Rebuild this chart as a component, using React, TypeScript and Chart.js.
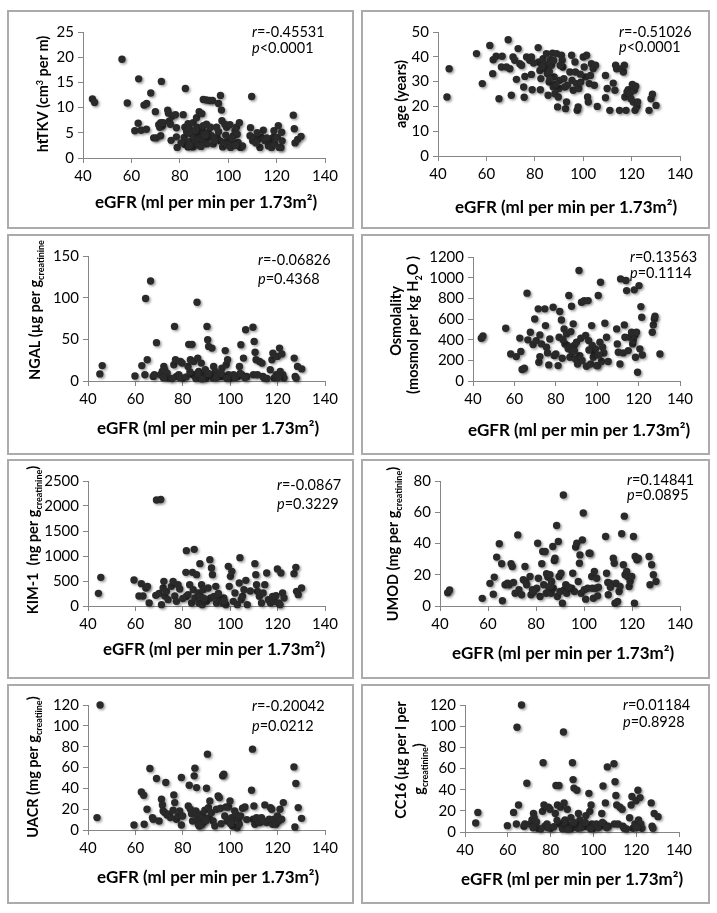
import React, { useEffect, useRef } from 'react';
import { Chart, registerables } from 'chart.js';

Chart.register(...registerables);

const FONT = 'Lato, "Open Sans", "DejaVu Sans", sans-serif';

// ---------------- data (eGFR, value) ----------------
const htTKVPoints: number[][] = [
  [43.9, 11.7], [44.8, 11.0], [56.1, 19.6], [58.3, 10.9], [61.4, 5.4], [63, 15.7], [62.8, 6.9], [64, 5.5], [65.2, 10.5], [66.3, 10.8],
  [66.2, 5.7], [68, 12.9], [69.2, 4.0], [70.3, 4.0], [69.9, 9.2], [71.3, 6.6], [72.1, 7.0], [72.7, 6.4], [71.7, 6.1], [72.4, 15.2],
  [72.1, 4.4], [73.1, 7.0], [75, 9.5], [75.3, 8.9], [75.6, 7.3], [76.1, 6.7], [76.4, 3.5], [76.8, 8.3], [78.2, 8.6], [78.9, 2.1],
  [78.6, 6.0], [78.6, 4.2], [81.4, 8.6], [82.3, 13.8], [82.1, 6.1], [81.8, 4.1], [82.2, 2.7], [82.8, 5.2], [83.4, 6.8], [83.9, 5.8],
  [84.4, 4.8], [84.8, 3.4], [83.2, 3.2], [83.4, 2.2], [85.5, 7.0], [85.2, 5.1], [85.9, 4.1], [86.3, 2.9], [85.5, 2.2], [86.9, 8.0],
  [87.2, 6.1], [87.6, 5.1], [87.9, 3.7], [87.7, 2.6], [88, 9.2], [89.1, 8.8], [88.3, 4.1], [89, 5.7], [89.4, 4.7], [89.7, 6.4],
  [89.9, 3.4], [89.7, 11.6], [91, 11.5], [92.4, 11.4], [93.5, 11.4], [91, 6.7], [91.7, 5.1], [92.1, 4.1], [92.7, 6.1], [93.1, 4.4],
  [91.2, 2.8], [93.8, 2.8], [95.2, 6.1], [95.4, 4.1], [96, 10.8], [96.8, 12.4], [97.2, 9.5], [97.4, 7.4], [96.6, 3.4], [97.7, 2.2],
  [98.2, 3.1], [98.6, 6.7], [99.3, 6.1], [99.7, 2.6], [100.4, 3.4], [101, 2.1], [100.7, 6.6], [102.1, 4.4], [102.8, 5.4], [103.4, 6.1],
  [103.7, 4.7], [104.6, 7.0], [102.8, 2.8], [104.1, 3.1], [105.1, 2.1], [105.9, 2.4], [109.7, 12.2], [109.2, 6.0], [109, 4.4], [110.1, 3.4],
  [111, 4.1], [112.4, 3.7], [113.1, 2.1], [113.8, 4.1], [114.5, 5.5], [115.2, 3.4], [116.6, 2.4], [117.2, 3.1], [117.9, 2.1], [118.6, 4.1],
  [118.9, 5.4], [119.3, 2.8], [120.7, 6.4], [120.3, 4.1], [121.1, 2.1], [121.8, 2.1], [122.3, 3.4], [122.1, 5.1], [126.9, 8.5], [127.3, 5.8],
  [127.6, 3.0], [128.7, 3.7], [130.1, 4.3], [80.5, 3.0], [84, 2.5], [86.5, 5.5], [88.8, 2.3], [90.5, 4.5], [94.3, 3.5], [96, 5.2],
  [99, 4.5], [101.5, 4.0], [103, 2.5], [111.5, 3.0], [116, 4.0], [112, 5.0],
];

const agePoints: number[][] = [
  [43.7, 23.8], [44.6, 35.2], [55.9, 41.3], [58.3, 29.2], [61.4, 44.6], [62.8, 38.8], [62.6, 33.2], [64, 40.2], [65.2, 23.1], [66.5, 40.2],
  [66.2, 35.9], [69, 46.9], [68.3, 35.9], [69.7, 35.2], [70.3, 24.5], [71, 39.9], [71.7, 38.6], [72.4, 30.9], [73.1, 43.3], [73.8, 37.2],
  [74.5, 36.6], [75.4, 27.8], [75.6, 23.7], [75.9, 32.1], [76.6, 39.9], [77.9, 38.6], [78.6, 39.9], [78.6, 32.9], [78.9, 26.7], [81.4, 43.7],
  [81.7, 37.9], [82.1, 34.5], [82.5, 31.2], [82.3, 26.7], [83.4, 39.2], [84.1, 37.2], [84.6, 35.2], [84.8, 41.3], [85.2, 33.2], [85.5, 24.5],
  [85.9, 29.8], [86.5, 38.8], [86.9, 36.6], [87.3, 41.5], [87.6, 27.8], [88, 31.9], [88.3, 25.1], [89, 41.3], [89.4, 19.8], [89.7, 23.8],
  [90, 27.2], [90.3, 30.5], [91, 40.6], [91.3, 38.6], [91.6, 35.9], [92, 31.2], [92.4, 27.8], [92.7, 19.1], [93.1, 21.8], [94.5, 33.9],
  [95.2, 40.6], [95.4, 30.5], [95.9, 26.5], [96.6, 37.9], [96.8, 33.9], [97.2, 29.2], [97.5, 18.4], [97.9, 19.8], [98.2, 27.2], [99, 29.8],
  [100, 39.9], [100.4, 35.9], [101, 31.9], [101.4, 40.6], [101.8, 23.8], [102.1, 21.8], [102.5, 29.2], [103.4, 37.2], [104.1, 35.2], [104.6, 28.5],
  [105.1, 36.6], [105.8, 20.0], [109.2, 32.5], [109.2, 23.5], [109.9, 27.2], [111, 18.4], [112.4, 29.4], [113.1, 26.5], [113.4, 36.6], [113.8, 35.2],
  [115, 18.4], [115.9, 35.2], [116.6, 33.9], [117, 36.6], [117.2, 23.8], [117.7, 18.4], [118.1, 25.8], [118.6, 26.7], [119.3, 25.1], [119.7, 23.1],
  [120.3, 28.9], [120.7, 21.8], [121.1, 26.5], [121.7, 28.1], [121.4, 18.4], [122.2, 20.0], [122.5, 21.8], [127.2, 18.4], [128, 23.1], [128.6, 24.9],
  [130.1, 20.4], [83, 36], [86, 34], [87.8, 38.5], [88.7, 29], [90.5, 36.5], [93.5, 28.5], [98.8, 33], [103, 32.5], [86.2, 31], [79.5, 37.5],
];

const ngalPoints: number[][] = [
  [45.0, 8.5], [46.0, 18.5], [59.8, 6.0], [62.7, 18.5], [64, 7.5], [64.3, 99], [65, 25.5], [66.4, 120], [67.5, 5.5], [68, 7.5],
  [68.9, 46], [70.6, 7.5], [71.3, 11.5], [72, 17.5], [72.3, 13.5], [72.7, 5.5], [73.4, 9.5], [74.1, 3.5], [76.2, 19.5], [76.5, 65.5],
  [76.9, 25.5], [77.3, 5.5], [78.3, 7.5], [79, 23.5], [79.7, 21.5], [80.1, 3.5], [82.2, 17.5], [82.5, 44], [83.2, 25.5], [83.9, 44],
  [84.3, 7.5], [84.6, 23.5], [86, 94.5], [86.3, 27.5], [86.7, 11.5], [87.1, 3.5], [87.4, 7.5], [87.8, 21.5], [88.8, 5.5], [89.5, 13.5],
  [89.9, 3.5], [90.2, 65.5], [90.5, 49.5], [90.9, 41.5], [91.6, 7.5], [92.3, 39.5], [92.7, 3.5], [93, 17.5], [93.7, 11.5], [95.1, 7.5],
  [95.8, 5.5], [96.5, 15.5], [97.2, 5.5], [97.9, 36.5], [98.3, 19.5], [98.9, 25.5], [99.3, 7.5], [100, 3.5], [100.4, 5.5], [101.4, 7.5],
  [103.1, 5.5], [103.9, 17.5], [104.5, 43.5], [104.9, 7.5], [105.6, 27.5], [106.5, 61.5], [107, 5.5], [109.6, 64.5], [109.8, 7.5], [110.1, 47.5],
  [110.5, 34.5], [110.9, 25.5], [111.5, 7.5], [112.4, 23.5], [113.4, 21.5], [113.8, 5.5], [114.3, 3.5], [116.9, 13.5], [117.6, 25.5], [118, 33.5],
  [118.5, 3.5], [119.4, 7.5], [119.9, 29.5], [120.8, 39.5], [121.1, 11.5], [121.8, 32.5], [122.2, 7.5], [122.7, 3.5], [127, 27.5], [127.4, 5.5],
  [127.8, 3.5], [128.4, 17.5], [130.2, 14.5], [75.5, 3], [78.8, 4], [81.5, 5], [85.5, 3], [86.2, 9], [88.2, 2.5], [90.8, 9],
  [94.2, 4], [96.2, 9], [98.6, 3], [102.2, 4], [104.2, 9], [106.2, 4], [115.5, 3], [120.2, 4], [71.8, 4], [83, 11],
];

const osmoPoints: number[][] = [
  [44, 413], [44.8, 435], [55.8, 510], [58.2, 262], [60.9, 236], [62.6, 415], [63.1, 285], [63.7, 111], [64.8, 123], [66.1, 850],
  [66.5, 398], [67.7, 472], [69, 353], [69.8, 600], [70.5, 391], [71.5, 698], [71.8, 182], [72.3, 236], [72.3, 446], [73.1, 359],
  [74.7, 698], [75, 536], [75.5, 327], [76, 272], [76.6, 156], [77.1, 407], [78.7, 714], [79.2, 246], [80, 262], [81.1, 149],
  [81.6, 423], [81.9, 672], [82.7, 591], [83.1, 220], [84, 504], [84.4, 359], [85.2, 456], [85.6, 343], [86, 311], [86.3, 827],
  [86.8, 230], [87.3, 478], [87.6, 723], [87.9, 278], [88.4, 553], [88.9, 343], [89.5, 214], [90, 375], [90.5, 165], [91.2, 1069],
  [91.6, 246], [92.1, 414], [92.4, 762], [92.7, 198], [93.7, 778], [94.4, 440], [94.8, 143], [95.6, 778], [95.9, 391], [96.8, 165],
  [97.3, 536], [97.6, 343], [98.1, 230], [98.5, 278], [99.2, 311], [99.7, 149], [100.2, 149], [100.5, 827], [101.3, 375], [101.6, 956],
  [102.1, 188], [102.6, 327], [103.2, 272], [103.7, 559], [104.5, 423], [105.3, 188], [109.4, 504], [109.7, 359], [110.2, 278], [111, 165],
  [111.3, 988], [112.6, 272], [113.1, 543], [113.4, 423], [113.9, 972], [114.2, 875], [115, 294], [115.8, 423], [116.6, 472], [117.1, 359],
  [117.4, 391], [117.9, 882], [118.2, 440], [118.5, 230], [119, 472], [119.5, 85], [120.2, 923], [120.6, 311], [121.1, 720], [121.5, 617],
  [121.8, 252], [126.6, 472], [127.1, 543], [127.6, 601], [127.9, 627], [130.3, 262], [83.5, 400], [89, 290], [96, 300], [100.8, 250],
];

const kimPoints: number[][] = [
  [44.4, 253], [45.4, 573], [59.4, 520], [61.5, 200], [62.5, 447], [63.2, 200], [64.4, 360], [65.1, 393], [65.8, 60], [68.9, 2120],
  [70.7, 2130], [68.6, 213], [70, 253], [71, 27], [71.7, 360], [72, 493], [72.4, 200], [73.1, 293], [73.8, 127], [75.2, 393],
  [75.9, 493], [76.6, 200], [77.3, 93], [78, 427], [78.7, 340], [81.5, 1107], [81.3, 673], [81.5, 193], [82.2, 227], [82.9, 427],
  [83.7, 60], [84.1, 673], [84.4, 327], [84.8, 1133], [85.1, 160], [85.8, 627], [86.5, 260], [86.8, 60], [87.2, 847], [87.5, 193],
  [87.9, 427], [88.2, 27], [88.6, 327], [90, 93], [90.7, 360], [91.4, 927], [91.7, 160], [92.1, 760], [92.5, 627], [93.1, 193],
  [93.9, 393], [94.2, 60], [95.6, 127], [96.8, 60], [97.3, 160], [98.2, 27], [99.2, 793], [99.6, 393], [100.1, 593], [100.7, 693],
  [101.3, 93], [102, 260], [103, 27], [103.8, 460], [104.1, 967], [104.6, 127], [105.2, 193], [105.8, 327], [106.6, 513], [107.2, 27],
  [110.4, 847], [110.8, 627], [111.1, 427], [111.5, 293], [112.3, 193], [113.2, 60], [113.9, 260], [114.6, 427], [115.4, 660], [116.1, 127],
  [117, 60], [117.9, 193], [118.5, 93], [119.3, 207], [119.9, 740], [120.4, 60], [121, 27], [121.4, 660], [122.1, 260], [122.7, 160],
  [126.9, 647], [127.7, 773], [128, 293], [128.7, 227], [130.1, 360], [80, 150], [89, 150], [95, 250], [97.5, 100], [108.5, 300],
];

const umodPoints: number[][] = [
  [43.2, 8.5], [44.0, 10.2], [57.6, 4.9], [60.8, 14.5], [62.2, 7.6], [62.6, 18.5], [63.6, 31.3], [64.7, 39.8], [65.7, 27], [66, 3.4],
  [67.1, 13.6], [68.1, 14.6], [68.8, 13.6], [69.6, 27], [70.1, 25.3], [70.6, 15.1], [71.3, 8.2], [72.4, 45.5], [72.9, 10.4], [74, 7.2],
  [74.7, 16.8], [75.4, 25.3], [75.7, 15.7], [76.1, 13.6], [77.5, 18.9], [77.9, 7.2], [78.5, 10.4], [80.3, 11.4], [80.7, 40.2], [81, 17.8],
  [81.7, 6.1], [82.4, 27], [82.8, 34.9], [83.2, 13.6], [83.8, 34.9], [84.2, 8.2], [84.4, 20.6], [84.9, 18.5], [85.4, 10.4], [85.8, 20],
  [86.3, 8.2], [86.5, 15.7], [87, 38.1], [87.2, 11.4], [87.6, 29.1], [87.9, 30.6], [88.6, 51.5], [88.9, 6.1], [89.3, 41.3], [89.6, 18.9],
  [90, 9.3], [90.4, 21], [91.4, 71], [91, 1.8], [91.8, 10.4], [92.4, 13.6], [92.8, 8.2], [94.9, 11.4], [95.3, 21], [96, 9.3],
  [96.5, 37.7], [97, 40.2], [97.6, 15.7], [98.1, 27.4], [98.3, 32.7], [98.8, 8.2], [99.3, 42.3], [99.7, 59.5], [100.1, 10.4], [100.7, 4.4],
  [101.5, 11.4], [102.1, 33.8], [102.5, 33.8], [103.2, 18.9], [103.5, 11.4], [103.9, 5], [104.3, 22.1], [104.9, 11.4], [105.3, 17.8], [105.7, 6.5],
  [109, 44.5], [109.4, 21], [109.9, 15.1], [110.1, 7.2], [110.8, 14.6], [112.2, 30.6], [112.6, 27.4], [112.9, 1.8], [113.3, 14.6], [114, 2.9],
  [114.6, 9.3], [115, 12.5], [115.7, 46.2], [116.4, 26.4], [116.8, 57.5], [117.1, 20], [117.8, 22.1], [118.2, 18.9], [118.8, 12.5], [119.2, 15.7],
  [119.9, 18.9], [120.6, 44.5], [121, 1.8], [121.3, 31.7], [122, 29.6], [122.6, 30.6], [127.1, 31.7], [127.5, 13.6], [128.2, 26.4], [128.9, 20],
  [130, 15.7], [79, 9], [86, 13], [93.5, 12], [106, 12], [111, 12],
];

const uacrPoints: number[][] = [
  [43.8, 11.9], [45.1, 120], [59.4, 4.8], [62.5, 36.6], [63.5, 33.4], [63.7, 5.5], [64.9, 19.9], [66.1, 59], [67.2, 11.9], [67.5, 10.3],
  [68.9, 49.4], [70, 8.7], [71, 29.5], [71.4, 24.1], [71.7, 18.3], [72.4, 16.7], [72.8, 45.6], [73.4, 14.4], [74.2, 15.1], [74.8, 11.9],
  [75.9, 18.9], [76.2, 33.7], [76.6, 26.3], [77.3, 10.3], [78, 13.5], [78.7, 18.3], [79.4, 4.8], [79.4, 50.4], [79.9, 13.5], [82.3, 23.1],
  [82.7, 43], [83.2, 19.9], [83.7, 15.7], [84.1, 8.7], [84.8, 52], [85.1, 59.4], [85.5, 18.3], [85.8, 40.7], [86.1, 11.9], [86.5, 5.5],
  [86.9, 3.9], [87.2, 15.1], [87.6, 10.3], [88.2, 13.5], [88.6, 7.1], [88.9, 11.9], [89.3, 18.9], [90, 40.1], [90.4, 72.8], [90.8, 21.5],
  [91.1, 11.9], [91.4, 27.9], [92.1, 16.7], [92.8, 8.7], [93.5, 3.9], [94.2, 19.9], [94.9, 32.7], [95.4, 31.1], [95.9, 20.9], [96.8, 52],
  [97.3, 53.6], [97.7, 13.5], [98.2, 22.1], [98.7, 8.7], [99.3, 22.1], [99.9, 27.9], [100.6, 11.9], [101, 3.9], [101.5, 10.3], [101.9, 18.3],
  [102.4, 15.1], [102.9, 2.2], [103.4, 10.3], [103.8, 5.5], [104.4, 13.5], [105.2, 20.9], [106.2, 22.1], [109, 38.2], [109.4, 77.6], [109.7, 10.3],
  [110, 23.1], [110.4, 5.5], [111.1, 11.9], [111.8, 8.7], [112.5, 7.1], [113.2, 11.9], [113.9, 8.7], [114.6, 24.1], [115.4, 7.1], [116.5, 10.3],
  [117, 21.5], [117.5, 19.9], [117.9, 5.5], [118.5, 10.3], [119.3, 5.5], [119.9, 13.5], [120.4, 8.7], [121, 19.9], [121.7, 10.3], [122.4, 26.3],
  [126.9, 60.6], [127.3, 2.9], [127.7, 44.6], [128.7, 21.5], [130.1, 11.2], [87.9, 5], [89.8, 9], [96.2, 6], [100.2, 6], [107, 10],
];

// CC16 panel shows the same scatter as the NGAL panel in the reference
const cc16Points: number[][] = ngalPoints;

// ---------------- text ----------------
type Seg = { t: string; s?: 'sub' | 'sup' | 'it' };

interface PanelSpec {
  box: number[]; // left, top, width, height (page)
  plot: number[]; // x0, x1, yTop, yBottom (page)
  yMax: number;
  yStep: number;
  data: number[][];
  yTitle: Seg[][];
  yTitleX: number[];
  yTitleY: number[];
  xTitle: number[]; // center x, center y
  r: string;
  p: string;
  rp: number[]; // left x, r y, p y
}

const X_TITLE = 'eGFR (ml per min per 1.73m²)';

const panels: PanelSpec[] = [
  {
    box: [7, 10, 347, 219], plot: [83, 325, 32, 158], yMax: 25, yStep: 5, data: htTKVPoints,
    yTitle: [[{ t: 'htTKV (cm' }, { t: '3', s: 'sup' }, { t: ' per m)' }]], yTitleX: [43], yTitleY: [94],
    xTitle: [206, 202], r: '=-0.45531', p: '<0.0001', rp: [252, 32, 48],
  },
  {
    box: [361, 10, 349, 219], plot: [438, 680, 32, 156], yMax: 50, yStep: 10, data: agePoints,
    yTitle: [[{ t: 'age (years)' }]], yTitleX: [401], yTitleY: [94],
    xTitle: [566, 207], r: '=-0.51026', p: '<0.0001', rp: [619, 32, 47],
  },
  {
    box: [7, 234, 347, 221], plot: [88, 325, 256, 381], yMax: 150, yStep: 50, data: ngalPoints,
    yTitle: [[{ t: 'NGAL (µg per g' }, { t: 'creatinine', s: 'sub' }]], yTitleX: [35], yTitleY: [310],
    xTitle: [208, 428], r: '=-0.06826', p: '=0.4368', rp: [258, 260, 279],
  },
  {
    box: [361, 234, 349, 221], plot: [473, 680, 257, 381], yMax: 1200, yStep: 200, data: osmoPoints,
    yTitle: [[{ t: 'Osmolality' }], [{ t: '(mosmol per kg H' }, { t: '2', s: 'sub' }, { t: 'O )' }]],
    yTitleX: [396, 413], yTitleY: [321, 325],
    xTitle: [579, 430], r: '=0.13563', p: '=0.1114', rp: [630, 257, 273],
  },
  {
    box: [7, 459, 347, 220], plot: [88, 325, 481, 606], yMax: 2500, yStep: 500, data: kimPoints,
    yTitle: [[{ t: 'KIM-1  (ng per g' }, { t: 'creatinine', s: 'sub' }, { t: ')' }]], yTitleX: [33], yTitleY: [540],
    xTitle: [214, 649], r: '=-0.0867', p: '=0.3229', rp: [277, 485, 504],
  },
  {
    box: [361, 459, 349, 220], plot: [440, 680, 481, 606], yMax: 80, yStep: 20, data: umodPoints,
    yTitle: [[{ t: 'UMOD (mg per g' }, { t: 'creatinine', s: 'sub' }, { t: ')' }]], yTitleX: [393], yTitleY: [544],
    xTitle: [563, 653], r: '=0.14841', p: '=0.0895', rp: [627, 480, 495],
  },
  {
    box: [7, 684, 347, 220], plot: [88, 325, 705, 830], yMax: 120, yStep: 20, data: uacrPoints,
    yTitle: [[{ t: 'UACR (mg per g' }, { t: 'creatiine', s: 'sub' }, { t: ')' }]], yTitleX: [33], yTitleY: [767],
    xTitle: [208, 877], r: '=-0.20042', p: '=0.0212', rp: [252, 706, 726],
  },
  {
    box: [361, 684, 349, 220], plot: [465, 679, 705, 832], yMax: 120, yStep: 20, data: cc16Points,
    yTitle: [[{ t: 'CC16 (µg per l per' }], [{ t: 'g' }, { t: 'creatinine', s: 'sub' }, { t: ')' }]],
    yTitleX: [401, 419], yTitleY: [760, 769],
    xTitle: [572, 879], r: '=0.01184', p: '=0.8928', rp: [623, 705, 722],
  },
];

function drawRich(
  ctx: CanvasRenderingContext2D, segs: Seg[], x: number, y: number,
  rotated: boolean, size: number, weight: string, align: 'center' | 'left',
) {
  const fontFor = (s: Seg) => {
    const sz = s.s === 'sub' || s.s === 'sup' ? size * 0.62 : size;
    const st = s.s === 'it' ? 'italic ' : '';
    return `${st}${weight} ${sz}px ${FONT}`;
  };
  const widths = segs.map((s) => { ctx.font = fontFor(s); return ctx.measureText(s.t).width; });
  const total = widths.reduce((a, b) => a + b, 0);
  ctx.save();
  ctx.translate(x, y);
  if (rotated) ctx.rotate(-Math.PI / 2);
  ctx.fillStyle = '#000';
  ctx.textAlign = 'left';
  ctx.textBaseline = 'alphabetic';
  let cx = align === 'center' ? -total / 2 : 0;
  const base = size * 0.36;
  segs.forEach((s, i) => {
    ctx.font = fontFor(s);
    const dy = s.s === 'sub' ? size * 0.25 : s.s === 'sup' ? -size * 0.38 : 0;
    ctx.fillText(s.t, cx, base + dy);
    cx += widths[i];
  });
  ctx.restore();
}

const shadowPlugin = {
  id: 'dotShadow',
  beforeDatasetsDraw(chart: any) {
    const c = chart.ctx;
    c.save();
    c.shadowColor = 'rgba(0,0,0,0.38)';
    c.shadowBlur = 2.5;
    c.shadowOffsetX = 1.5;
    c.shadowOffsetY = 1.5;
  },
  afterDatasetsDraw(chart: any) {
    chart.ctx.restore();
  },
};

function Panel({ spec }: { spec: PanelSpec }) {
  const ref = useRef<HTMLCanvasElement>(null);
  const [bl, bt, bw, bh] = spec.box;
  const ox = bl + 2;
  const oy = bt + 2;
  const cw = bw - 4;
  const ch = bh - 4;

  useEffect(() => {
    const [px0, px1, pyT, pyB] = spec.plot;
    const left = px0 - ox;
    const right = px1 - ox;
    const top = pyT - oy;
    const bottom = pyB - oy;
    const tickFont = { family: FONT, size: 15 };
    const fmt = (v: any) => String(v);

    const textPlugin = {
      id: 'texts',
      afterDraw(chart: any) {
        const ctx = chart.ctx as CanvasRenderingContext2D;
        spec.yTitle.forEach((line, i) => {
          drawRich(ctx, line, spec.yTitleX[i] - ox, spec.yTitleY[i] - oy, true, 14.5, 'bold', 'center');
        });
        drawRich(ctx, [{ t: X_TITLE }], spec.xTitle[0] - ox, spec.xTitle[1] - oy, false, 17, 'bold', 'center');
        drawRich(ctx, [{ t: 'r', s: 'it' }, { t: spec.r }], spec.rp[0] - ox, spec.rp[1] - oy, false, 14.5, 'normal', 'left');
        drawRich(ctx, [{ t: 'p', s: 'it' }, { t: spec.p }], spec.rp[0] - ox, spec.rp[2] - oy, false, 14.5, 'normal', 'left');
      },
    };

    const chart = new Chart(ref.current as HTMLCanvasElement, {
      type: 'scatter',
      data: {
        datasets: [{
          data: spec.data.map(([x, y]) => ({ x, y })),
          backgroundColor: '#2a2a2a',
          borderWidth: 0,
          pointRadius: 3.7,
          pointHoverRadius: 3.7,
          clip: false as any,
        }],
      },
      options: {
        animation: false,
        responsive: false,
        devicePixelRatio: 1,
        events: [],
        layout: { autoPadding: false, padding: { left: 0, top, right: cw - right, bottom: 0 } },
        plugins: { legend: { display: false }, tooltip: { enabled: false } },
        scales: {
          x: {
            type: 'linear', min: 40, max: 140,
            ticks: { stepSize: 20, font: tickFont, color: '#000', padding: 4, callback: fmt, autoSkip: false, maxRotation: 0 },
            grid: { drawOnChartArea: false, drawTicks: true, tickLength: 5, color: '#868686' },
            border: { color: '#868686' },
            afterFit: (s: any) => { s.height = ch - bottom; },
          },
          y: {
            type: 'linear', min: 0, max: spec.yMax,
            ticks: { stepSize: spec.yStep, font: tickFont, color: '#000', padding: 4, callback: fmt, autoSkip: false },
            grid: { drawOnChartArea: false, drawTicks: true, tickLength: 5, color: '#868686' },
            border: { color: '#868686' },
            afterFit: (s: any) => { s.width = left; },
          },
        },
      } as any,
      plugins: [shadowPlugin, textPlugin],
    });
    return () => chart.destroy();
  }, []);

  return (
    <div
      style={{
        position: 'absolute', left: bl, top: bt, width: bw, height: bh,
        boxSizing: 'border-box', border: '2px solid #ababab', background: '#fff',
      }}
    >
      <canvas ref={ref} width={cw} height={ch} style={{ display: 'block', width: cw, height: ch }} />
    </div>
  );
}

export default function App() {
  return (
    <div style={{ position: 'absolute', left: 0, top: 0, width: 717, height: 913, background: '#fff' }}>
      {panels.map((p, i) => <Panel key={i} spec={p} />)}
    </div>
  );
}
